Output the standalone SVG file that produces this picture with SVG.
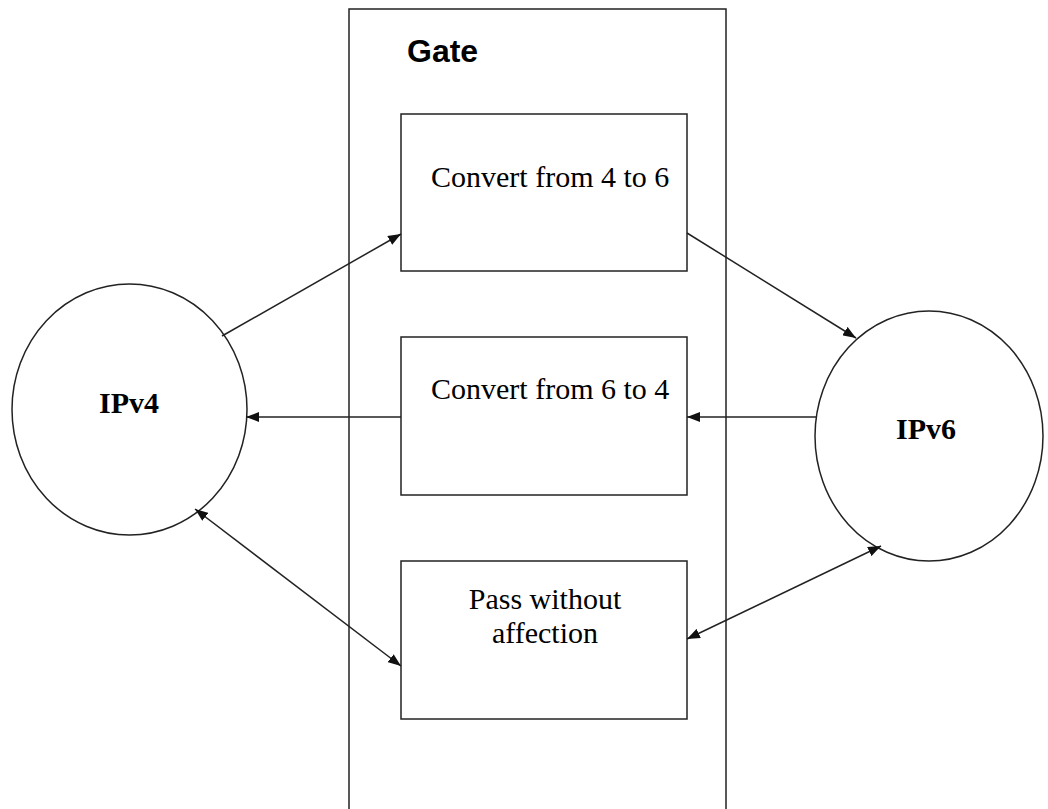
<svg xmlns="http://www.w3.org/2000/svg" width="1048" height="809" viewBox="0 0 1048 809">
  <style>
    .shape { fill: #ffffff; stroke: #222222; stroke-width: 1.5; }
    .link { fill: none; stroke: #222222; stroke-width: 1.5; }
    .serif { font-family: "Liberation Serif", "Times New Roman", serif; font-size: 30px; fill: #000000; }
    .bold { font-weight: bold; }
    .title { font-family: "Liberation Sans", Arial, sans-serif; font-size: 32px; font-weight: bold; fill: #000000; }
  </style>
  <defs>
    <marker id="head" markerUnits="userSpaceOnUse" markerWidth="14" markerHeight="10" refX="13" refY="5" orient="auto-start-reverse">
      <path d="M0,0 L13,5 L0,10 z" fill="#111111"/>
    </marker>
  </defs>
  <rect width="1048" height="809" fill="#ffffff"/>

  <!-- gateway container -->
  <g id="gate">
    <rect class="shape" x="349" y="9" width="377" height="820"/>
    <text class="title" x="407" y="62">Gate</text>
  </g>

  <g id="convert46">
    <rect class="shape" x="401" y="114" width="286" height="157"/>
    <text class="serif" x="431" y="187">Convert from 4 to 6</text>
  </g>

  <g id="convert64">
    <rect class="shape" x="401" y="337" width="286" height="158"/>
    <text class="serif" x="431" y="399">Convert from 6 to 4</text>
  </g>

  <g id="pass">
    <rect class="shape" x="401" y="561" width="286" height="158"/>
    <text class="serif" x="545" y="609" text-anchor="middle">Pass without</text>
    <text class="serif" x="545" y="643" text-anchor="middle">affection</text>
  </g>

  <g id="ipv4">
    <ellipse class="shape" cx="129.5" cy="409.5" rx="117.5" ry="125.5"/>
    <text class="serif bold" x="129" y="413" text-anchor="middle">IPv4</text>
  </g>

  <g id="ipv6">
    <ellipse class="shape" cx="929" cy="436" rx="114" ry="125"/>
    <text class="serif bold" x="926" y="439" text-anchor="middle">IPv6</text>
  </g>

  <!-- connectors -->
  <g id="connectors">
    <line class="link" x1="222" y1="336" x2="401" y2="234" marker-end="url(#head)"/>
    <line class="link" x1="687" y1="233" x2="856" y2="338" marker-end="url(#head)"/>
    <line class="link" x1="401" y1="417" x2="246" y2="417" marker-end="url(#head)"/>
    <line class="link" x1="816" y1="417" x2="687" y2="417" marker-end="url(#head)"/>
    <line class="link" x1="195" y1="509" x2="401" y2="666" marker-start="url(#head)" marker-end="url(#head)"/>
    <line class="link" x1="687" y1="639" x2="881" y2="546" marker-start="url(#head)" marker-end="url(#head)"/>
  </g>
</svg>
